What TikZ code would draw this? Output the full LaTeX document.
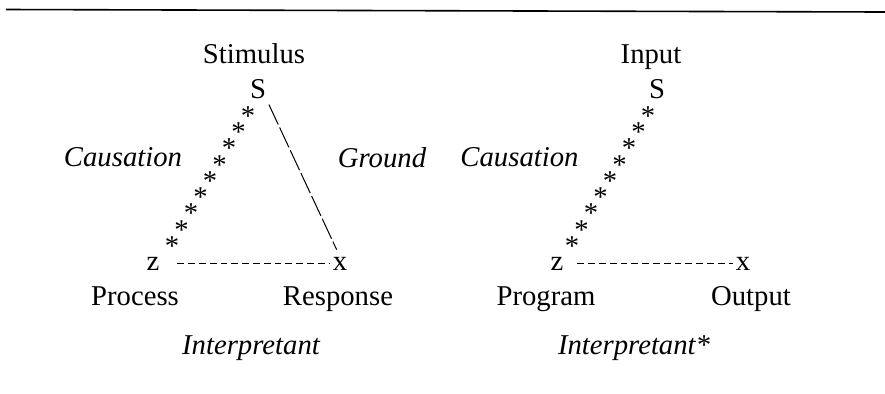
\documentclass[tikz,border=0pt]{standalone}
\usepackage{fontspec}
\setmainfont{Liberation Serif}
\begin{document}
\begin{tikzpicture}[x=0.5pt,y=-0.5pt,
  lbl/.style={font=\fontsize{14.35pt}{17pt}\selectfont, inner sep=0pt, outer sep=0pt, anchor=base},
  ilbl/.style={lbl, font=\fontsize{14.35pt}{17pt}\selectfont\itshape},
  starnode/.style={font=\fontsize{14.35pt}{17pt}\selectfont, inner sep=0pt, outer sep=0pt,
    text height=0.19em, text depth=0.19em, anchor=center},
  longdash/.style={line width=0.5pt, dash pattern=on 11pt off 1.6pt},
  shortdash/.style={line width=0.8pt, dash pattern=on 3.4pt off 2pt},
  rulestyle/.style={line width=0.8pt}]
\useasboundingbox (0,0) rectangle (885,393);
% top rule
\coordinate (ruleA) at (6,9.5);
\coordinate (ruleB) at (885,12);
\draw[rulestyle] (ruleA) -- (ruleB);

% ---------- left diagram ----------
\node[lbl] (stimulus) at (254,63) {Stimulus};
\node[lbl] (sL) at (258,98) {S};
\node[lbl] (zL) at (153,270) {z};
\node[lbl] (xL) at (340,270) {x};
\node[lbl] (process) at (135,305) {Process};
\node[lbl] (response) at (338,305) {Response};
\node[ilbl] (interpL) at (251,354) {Interpretant};
\node[ilbl] (causL) at (123,166) {Causation};
\node[ilbl] (ground) at (382,167) {Ground};
\foreach \i in {0,...,8} {
  \node[starnode] (starL\i) at ({248-9.5*\i},{112+16.25*\i}) {\raisebox{-0.466em}[0pt][0pt]{*}};
}
\draw[longdash, shorten <=3.5pt, shorten >=4pt] (sL.south east) -- (xL.north);
\draw[shortdash, shorten <=9pt, shorten >=1.5pt] (zL.east) -- (xL.west);

% ---------- right diagram ----------
\node[lbl] (input) at (651,63) {Input};
\node[lbl] (sR) at (657,98) {S};
\node[lbl] (zR) at (557,270) {z};
\node[lbl] (xR) at (743,270) {x};
\node[lbl] (program) at (546,305) {Program};
\node[lbl] (output) at (751,305) {Output};
\node[ilbl] (interpR) at (634,354) {Interpretant*};
\node[ilbl] (causR) at (519.5,166) {Causation};
\foreach \i in {0,...,8} {
  \node[starnode] (starR\i) at ({648-9.5*\i},{112+16.25*\i}) {\raisebox{-0.466em}[0pt][0pt]{*}};
}
\draw[shortdash, shorten <=7pt, shorten >=1.5pt] (zR.east) -- (xR.west);
\end{tikzpicture}
\end{document}
